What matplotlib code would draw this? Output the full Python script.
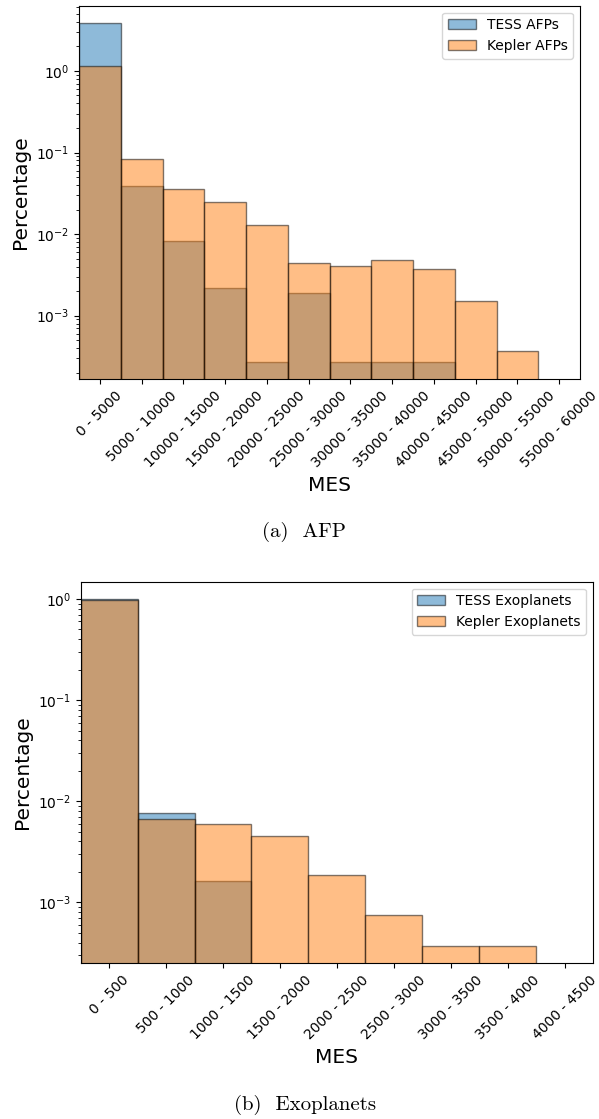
import numpy as np
import matplotlib.pyplot as plt

# (a) AFP
afp_bins = ["0 - 5000", "5000 - 10000", "10000 - 15000", "15000 - 20000",
            "20000 - 25000", "25000 - 30000", "30000 - 35000", "35000 - 40000",
            "40000 - 45000", "45000 - 50000", "50000 - 55000", "55000 - 60000"]
tess_afp = [3.88, 0.0392, 0.00816, 0.00216, 0.000273, 0.0019,
            0.000273, 0.000273, 0.000273, 0, 0, 0]
kepler_afp = [1.16, 0.0826, 0.0352, 0.0245, 0.0130, 0.00446,
              0.0041, 0.00485, 0.00377, 0.0015, 0.000372, 0]

# (b) Exoplanets
exo_bins = ["0 - 500", "500 - 1000", "1000 - 1500", "1500 - 2000", "2000 - 2500",
            "2500 - 3000", "3000 - 3500", "3500 - 4000", "4000 - 4500"]
tess_exo = [0.99, 0.00758, 0.00163, 0, 0, 0, 0, 0, 0]
kepler_exo = [0.977, 0.00672, 0.00594, 0.0045, 0.00188, 0.000746,
              0.000372, 0.000372, 0]


def draw(ax, labels, tess, kepler, names, ylim):
    x = np.arange(len(labels))
    for vals, name, col in [(tess, names[0], "#1f77b4"), (kepler, names[1], "#ff7f0e")]:
        vals = np.array(vals, dtype=float)
        keep = vals > 0
        ax.bar(x[keep], vals[keep], width=1.0, color=col, alpha=0.5,
               edgecolor="black", linewidth=1.0, label=name)
    ax.set_yscale("log")
    ax.set_xlim(-0.5, len(labels) - 0.5)
    ax.set_ylim(*ylim)
    ax.set_xticks(x)
    ax.set_xticklabels(labels, rotation=45, fontsize=10)
    ax.tick_params(axis="y", labelsize=10)
    ax.set_xlabel("MES", fontsize=14.5)
    ax.set_ylabel("Percentage", fontsize=14.5)
    ax.legend(loc="upper right", fontsize=10)


W, H = 599, 1119
fig = plt.figure(figsize=(W / 100, H / 100), dpi=100)

ax1 = fig.add_axes([79 / W, 1 - 379.3 / H, (580 - 79) / W, (379.3 - 5.7) / H])
draw(ax1, afp_bins, tess_afp, kepler_afp, ["TESS AFPs", "Kepler AFPs"], (1.66e-4, 6.3))

ax2 = fig.add_axes([80.7 / W, 1 - 963.3 / H, (593 - 80.7) / W, (963.3 - 581.7) / H])
draw(ax2, exo_bins, tess_exo, kepler_exo, ["TESS Exoplanets", "Kepler Exoplanets"], (2.5e-4, 1.48))

fig.text(304 / W, 1 - 532 / H, "(a)  AFP", fontfamily="cmr10", fontsize=15,
         ha="center", va="center")
fig.text(305 / W, 1 - 1105 / H, "(b)  Exoplanets", fontfamily="cmr10", fontsize=15,
         ha="center", va="center")

fig.savefig("out.png", dpi=100)
